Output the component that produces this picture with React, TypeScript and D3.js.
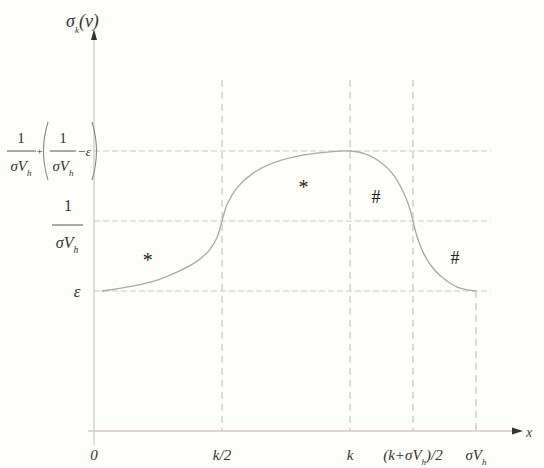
import { useRef, useEffect } from 'react';
import * as d3 from 'd3';

// curve (x in units of k, y in units of ε)
const curveX = [0.03, 0.15, 0.25, 0.33, 0.4, 0.45, 0.48, 0.5, 0.52, 0.56, 0.62, 0.7, 0.8, 0.9, 1.0, 1.06, 1.12, 1.17, 1.21, 1.235, 1.246, 1.26, 1.29, 1.33, 1.38, 1.43, 1.492];
const curveY = [1.0, 1.035, 1.08, 1.14, 1.21, 1.29, 1.38, 1.5, 1.62, 1.74, 1.84, 1.915, 1.965, 1.99, 2.0, 1.98, 1.92, 1.83, 1.7, 1.58, 1.5, 1.4, 1.26, 1.15, 1.07, 1.02, 1.0];

// x positions of the marked abscissae and their labels
const xTicks = [0, 0.5, 1, 1.246, 1.492];
const xTickLabels = ['0', 'k/2', 'k', '(k+σV_h)/2', 'σV_h'];

// y levels: ε, 1/σV_h, 1/σV_h + (1/σV_h − ε)
const yLevels = [1, 1.5, 2];

// region markers
const markX = [0.21, 0.818, 1.102, 1.41];
const markY = [1.22, 1.74, 1.68, 1.24];
const markText = ['*', '*', '#', '#'];

function App() {
    const svgRef = useRef<SVGSVGElement>(null);

    useEffect(() => {
        const width = 544;
        const height = 468;
        const lineCol = '#dcc0d4';
        const dashCol = '#b8b8b8';
        const font = "'Liberation Serif', 'DejaVu Serif', serif";

        const svg = d3.select(svgRef.current)
            .attr('width', width)
            .attr('height', height);
        svg.selectAll('*').remove();

        svg.append('rect').attr('width', width).attr('height', height).attr('fill', '#fdfdf9');

        const x = d3.scaleLinear().domain([0, 1]).range([94, 350]);
        const y = d3.scaleLinear().domain([0, 2]).range([431, 151]);

        //horizontal dashed levels
        svg.selectAll('line.level')
            .data(yLevels)
            .enter()
            .append('line')
            .attr('x1', x(0))
            .attr('x2', 491)
            .attr('y1', d => y(d))
            .attr('y2', d => y(d))
            .attr('stroke', lineCol)
            .attr('stroke-width', 1.2)
            .attr('stroke-dasharray', '6,3');

        //vertical dashed guides
        svg.selectAll('line.guide')
            .data(xTicks.slice(1))
            .enter()
            .append('line')
            .attr('x1', d => x(d))
            .attr('x2', d => x(d))
            .attr('y1', (d, i) => (i === 3 ? y(yLevels[0]) : 80))
            .attr('y2', y(0))
            .attr('stroke', dashCol)
            .attr('stroke-width', 1)
            .attr('stroke-dasharray', '7,5');

        //axes
        svg.append('line')
            .attr('x1', x(0)).attr('x2', x(0))
            .attr('y1', 38).attr('y2', 445)
            .attr('stroke', '#c8c8c8').attr('stroke-width', 1.2);
        svg.append('path')
            .attr('d', `M${x(0)},29 L${x(0) - 3},40 L${x(0) + 3},40 Z`)
            .attr('fill', '#333');
        svg.append('line')
            .attr('x1', 88).attr('x2', 515)
            .attr('y1', y(0)).attr('y2', y(0))
            .attr('stroke', lineCol).attr('stroke-width', 1.5);
        svg.append('path')
            .attr('d', `M523,${y(0)} L512,${y(0) - 3.5} L512,${y(0) + 3.5} Z`)
            .attr('fill', '#333');
        svg.append('text')
            .attr('x', 526).attr('y', y(0) + 6)
            .attr('font-family', font).attr('font-style', 'italic')
            .attr('font-size', 14).attr('fill', '#444')
            .text('x');

        //curve
        const pts: [number, number][] = curveX.map((d, i) => [d, curveY[i]]);
        const line = d3.line<[number, number]>()
            .x(d => x(d[0]))
            .y(d => y(d[1]))
            .curve(d3.curveCatmullRom.alpha(0.5));
        svg.append('path')
            .datum(pts)
            .attr('d', line)
            .attr('fill', 'none')
            .attr('stroke', '#a9a9a9')
            .attr('stroke-width', 1.3);

        //helper for text with an "_h" subscript
        const addLabel = (g: any, label: string, size: number) => {
            const parts = label.split('_');
            g.append('tspan').text(parts[0]);
            if (parts.length > 1) {
                g.append('tspan')
                    .attr('font-size', size * 0.6)
                    .attr('dy', size * 0.3)
                    .text(parts[1].slice(0, 1));
                if (parts[1].length > 1) {
                    g.append('tspan').attr('dy', -size * 0.3).text(parts[1].slice(1));
                }
            }
        };

        //x tick labels
        xTicks.forEach((d, i) => {
            const t = svg.append('text')
                .attr('x', x(d))
                .attr('y', 460)
                .attr('text-anchor', 'middle')
                .attr('font-family', font)
                .attr('font-style', 'italic')
                .attr('font-size', 15)
                .attr('fill', '#333');
            addLabel(t, xTickLabels[i], 15);
        });

        const txt = (tx: number, ty: number, s: string, size = 16, anchor = 'middle') => {
            const t = svg.append('text')
                .attr('x', tx).attr('y', ty)
                .attr('text-anchor', anchor)
                .attr('font-family', font)
                .attr('font-style', 'italic')
                .attr('font-size', size)
                .attr('fill', '#333');
            addLabel(t, s, size);
            return t;
        };
        const bar = (x1: number, x2: number, yy: number) => {
            svg.append('line')
                .attr('x1', x1).attr('x2', x2)
                .attr('y1', yy).attr('y2', yy)
                .attr('stroke', '#555').attr('stroke-width', 1);
        };
        const paren = (px: number, yy: number, dir: number) => {
            svg.append('path')
                .attr('d', `M${px},${yy - 29} Q${px - dir * 9},${yy} ${px},${yy + 29}`)
                .attr('fill', 'none')
                .attr('stroke', '#888')
                .attr('stroke-width', 1.1);
        };

        //y title
        const yt = svg.append('text')
            .attr('x', 66).attr('y', 27)
            .attr('font-family', font).attr('font-style', 'italic')
            .attr('font-size', 18).attr('fill', '#333');
        yt.append('tspan').text('σ');
        yt.append('tspan').attr('font-size', 9).attr('dy', 6).text('k');
        yt.append('tspan').attr('dy', -6).text('(v)');

        //ε level
        txt(77, y(yLevels[0]) + 6, 'ε', 17);

        //1/σV_h level
        txt(68, y(yLevels[1]) - 10, '1', 16).attr('font-style', 'normal');
        bar(52, 83, y(yLevels[1]) + 4);
        txt(67, y(yLevels[1]) + 27, 'σV_h', 16);

        //top level
        const yb = y(yLevels[2]);
        txt(21, yb - 8, '1', 15).attr('font-style', 'normal');
        bar(7, 36, yb);
        txt(21, yb + 20, 'σV_h', 15);
        txt(39.5, yb + 4, '+', 11).attr('font-style', 'normal');
        paren(48, yb, 1);
        txt(63, yb - 8, '1', 15).attr('font-style', 'normal');
        bar(50, 76, yb);
        txt(63, yb + 20, 'σV_h', 15);
        txt(84, yb + 5, '−ε', 13);
        paren(92, yb, -1);

        //region markers
        markX.forEach((d, i) => {
            svg.append('text')
                .attr('x', x(d))
                .attr('y', y(markY[i]) + 7)
                .attr('text-anchor', 'middle')
                .attr('font-family', font)
                .attr('font-size', markText[i] === '*' ? 20 : 18)
                .attr('fill', '#222')
                .text(markText[i]);
        });
    }, []);

    return (
        <div style={{ position: 'fixed', left: 0, top: 0 }}>
            <svg ref={svgRef} style={{ display: 'block' }} />
        </div>
    );
}

export default App;
